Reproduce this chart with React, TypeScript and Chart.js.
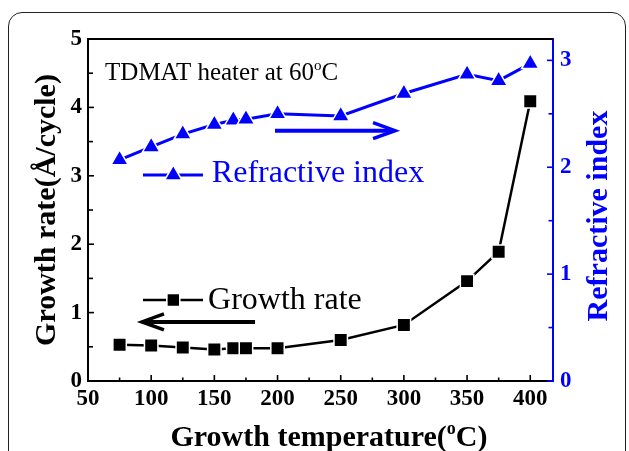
import React, { useEffect, useRef } from "react";
import { Chart, registerables } from "chart.js";

Chart.register(...registerables);

// ---- data ----
const temperatures = [75, 100, 125, 150, 165, 175, 200, 250, 300, 350, 375, 400];
const growthRate = [0.53, 0.52, 0.49, 0.46, 0.48, 0.48, 0.48, 0.6, 0.82, 1.46, 1.89, 4.09];
const refractiveIndex = [2.07, 2.19, 2.31, 2.4, 2.44, 2.45, 2.5, 2.48, 2.69, 2.87, 2.81, 2.97];

// ---- tick values ----
const xMajorTicks = [50, 100, 150, 200, 250, 300, 350, 400];
const xMinorTicks = [75, 125, 175, 225, 275, 325, 375];
const growthMajorTicks = [0, 1, 2, 3, 4, 5];
const growthMinorTicks = [0.5, 1.5, 2.5, 3.5, 4.5];
const indexMajorTicks = [0, 1, 2, 3];
const indexMinorTicks = [0.5, 1.5, 2.5];

const xRange = [50, 418];
const growthRange = [0, 5];
const indexRange = [0, 3.2];

// ---- texts ----
const xTitleParts = ["Growth temperature(", "o", "C)"];
const yTitle = "Growth rate(Å/cycle)";
const y1Title = "Refractive index";
const noteParts = ["TDMAT heater at 60", "o", "C"];
const growthLabel = "Growth rate";
const indexLabel = "Refractive index";

const SERIF = "'Liberation Serif', 'Times New Roman', serif";
const BLUE = "#0000ff";
const BLACK = "#000000";

function drawTriangle(ctx: CanvasRenderingContext2D, x: number, y: number, r: number) {
  ctx.beginPath();
  ctx.moveTo(x, y - r);
  ctx.lineTo(x + r * 0.866, y + r * 0.5);
  ctx.lineTo(x - r * 0.866, y + r * 0.5);
  ctx.closePath();
}

function drawArrow(ctx: CanvasRenderingContext2D, x0: number, x1: number, y: number, color: string) {
  // x0 = tail, x1 = tip
  const dir = x1 > x0 ? 1 : -1;
  ctx.strokeStyle = color;
  ctx.lineWidth = 4;
  ctx.lineCap = "butt";
  ctx.beginPath();
  ctx.moveTo(x0, y);
  ctx.lineTo(x1 - dir * 2, y);
  ctx.stroke();
  ctx.lineJoin = "miter";
  ctx.lineWidth = 3.5;
  ctx.beginPath();
  ctx.moveTo(x1 - dir * 22, y - 8);
  ctx.lineTo(x1, y);
  ctx.lineTo(x1 - dir * 22, y + 8);
  ctx.stroke();
}

function drawParts(
  ctx: CanvasRenderingContext2D,
  parts: string[],
  x: number,
  y: number,
  font: string,
  supFont: string,
  supRaise: number,
  align: "left" | "center"
) {
  ctx.font = font;
  const w0 = ctx.measureText(parts[0]).width;
  const w2 = ctx.measureText(parts[2]).width;
  ctx.font = supFont;
  const w1 = ctx.measureText(parts[1]).width;
  const total = w0 + w1 + w2;
  let cx = align === "center" ? x - total / 2 : x;
  ctx.textAlign = "left";
  ctx.textBaseline = "alphabetic";
  ctx.font = font;
  ctx.fillText(parts[0], cx, y);
  cx += w0;
  ctx.font = supFont;
  ctx.fillText(parts[1], cx, y - supRaise);
  cx += w1;
  ctx.font = font;
  ctx.fillText(parts[2], cx, y);
}

const annotationPlugin = {
  id: "figureAnnotations",
  afterDraw(chart: any) {
    const { ctx, chartArea: ca, scales } = chart;
    const xs = scales.x;
    const yl = scales.y;
    const yr = scales.y1;
    const px = (v: number) => xs.getPixelForValue(v);
    const py = (v: number) => yl.getPixelForValue(v);
    ctx.save();

    // top frame line
    ctx.strokeStyle = BLACK;
    ctx.lineWidth = 2;
    ctx.beginPath();
    ctx.moveTo(ca.left, ca.top);
    ctx.lineTo(ca.right, ca.top);
    ctx.stroke();

    // inward tick marks
    ctx.lineWidth = 1.6;
    ctx.strokeStyle = BLACK;
    const xt = (vals: number[], len: number) => {
      vals.forEach((v) => {
        const p = px(v);
        ctx.beginPath();
        ctx.moveTo(p, ca.bottom);
        ctx.lineTo(p, ca.bottom - len);
        ctx.stroke();
      });
    };
    xt(xMajorTicks, 6);
    xt(xMinorTicks, 3.5);
    const ylt = (vals: number[], len: number) => {
      vals.forEach((v) => {
        const p = yl.getPixelForValue(v);
        ctx.beginPath();
        ctx.moveTo(ca.left, p);
        ctx.lineTo(ca.left + len, p);
        ctx.stroke();
      });
    };
    ylt(growthMajorTicks, 6);
    ylt(growthMinorTicks, 5);
    ctx.strokeStyle = BLUE;
    const yrt = (vals: number[], len: number) => {
      vals.forEach((v) => {
        const p = yr.getPixelForValue(v);
        ctx.beginPath();
        ctx.moveTo(ca.right, p);
        ctx.lineTo(ca.right - len, p);
        ctx.stroke();
      });
    };
    yrt(indexMajorTicks, 6);
    yrt(indexMinorTicks, 4.5);

    // note text
    ctx.fillStyle = BLACK;
    drawParts(ctx, noteParts, px(63.5), py(4.4), `25px ${SERIF}`, `15px ${SERIF}`, 10, "left");

    // refractive index legend sample
    const ly1 = py(3.01);
    ctx.strokeStyle = BLUE;
    ctx.lineWidth = 3;
    ctx.beginPath();
    ctx.moveTo(px(93.5), ly1);
    ctx.lineTo(px(141), ly1);
    ctx.stroke();
    const tcx = px(117.5);
    drawTriangle(ctx, tcx, ly1, 10);
    ctx.fillStyle = BLUE;
    ctx.fill();
    ctx.strokeStyle = "#ffffff";
    ctx.lineWidth = 1.5;
    ctx.stroke();
    ctx.fillStyle = BLUE;
    ctx.font = `32px ${SERIF}`;
    ctx.textAlign = "left";
    ctx.textBaseline = "alphabetic";
    ctx.fillText(indexLabel, px(148), py(2.91));

    // growth rate legend sample
    const ly2 = py(1.184);
    ctx.strokeStyle = BLACK;
    ctx.lineWidth = 2.5;
    ctx.beginPath();
    ctx.moveTo(px(93.5), ly2);
    ctx.lineTo(px(141), ly2);
    ctx.stroke();
    const scx = px(117.5);
    ctx.fillStyle = BLACK;
    ctx.fillRect(scx - 6, ly2 - 6, 12, 12);
    ctx.strokeStyle = "#ffffff";
    ctx.lineWidth = 1.5;
    ctx.strokeRect(scx - 6.5, ly2 - 6.5, 13, 13);
    ctx.fillStyle = BLACK;
    ctx.font = `32px ${SERIF}`;
    ctx.fillText(growthLabel, px(145), py(1.053));

    // arrows
    drawArrow(ctx, px(198), px(293), py(3.66), BLUE);
    drawArrow(ctx, px(182.2), px(92.7), py(0.863), BLACK);

    // axis titles
    ctx.fillStyle = BLACK;
    drawParts(ctx, xTitleParts, 329, 446, `bold 30px ${SERIF}`, `bold 18px ${SERIF}`, 12, "center");

    ctx.save();
    ctx.translate(55, (ca.top + ca.bottom) / 2);
    ctx.rotate(-Math.PI / 2);
    ctx.font = `bold 30px ${SERIF}`;
    ctx.textAlign = "center";
    ctx.textBaseline = "alphabetic";
    ctx.fillStyle = BLACK;
    ctx.fillText(yTitle, 0, 0);
    ctx.restore();

    ctx.save();
    ctx.translate(607, (ca.top + ca.bottom) / 2 + 6);
    ctx.rotate(-Math.PI / 2);
    ctx.font = `bold 30px ${SERIF}`;
    ctx.textAlign = "center";
    ctx.textBaseline = "alphabetic";
    ctx.fillStyle = BLUE;
    ctx.fillText(y1Title, 0, 0);
    ctx.restore();

    ctx.restore();
  },
};

export default function App() {
  const canvasRef = useRef<HTMLCanvasElement | null>(null);

  useEffect(() => {
    const canvas = canvasRef.current;
    if (!canvas) return;
    const tickFont = { family: SERIF, size: 23, weight: "bold" as const };
    const chart = new Chart(canvas, {
      type: "line",
      data: {
        datasets: [
          {
            label: growthLabel,
            data: temperatures.map((t, i) => ({ x: t, y: growthRate[i] })),
            yAxisID: "y",
            borderColor: BLACK,
            backgroundColor: BLACK,
            borderWidth: 2.5,
            pointStyle: "rect",
            pointRadius: 9.5,
            pointBackgroundColor: BLACK,
            pointBorderColor: "#ffffff",
            pointBorderWidth: 1.5,
            tension: 0,
            clip: false,
          },
          {
            label: indexLabel,
            data: temperatures.map((t, i) => ({ x: t, y: refractiveIndex[i] })),
            yAxisID: "y1",
            borderColor: BLUE,
            backgroundColor: BLUE,
            borderWidth: 3,
            pointStyle: "triangle",
            pointRadius: 10,
            pointBackgroundColor: BLUE,
            pointBorderColor: "#ffffff",
            pointBorderWidth: 1.5,
            tension: 0,
            clip: false,
          },
        ],
      },
      options: {
        responsive: false,
        animation: false,
        layout: { padding: { top: 39, left: 0, right: 0, bottom: 0 } },
        plugins: {
          legend: { display: false },
          tooltip: { enabled: false },
        },
        scales: {
          x: {
            type: "linear",
            position: "bottom",
            min: xRange[0],
            max: xRange[1],
            grid: { display: false, drawTicks: false },
            border: { display: true, color: BLACK, width: 2 },
            ticks: { font: tickFont, color: BLACK, padding: 4, maxRotation: 0, autoSkip: false },
            afterBuildTicks: (s: any) => {
              s.ticks = xMajorTicks.map((value) => ({ value }));
            },
            afterFit: (s: any) => {
              s.height = 70;
            },
          },
          y: {
            type: "linear",
            position: "left",
            min: growthRange[0],
            max: growthRange[1],
            grid: { display: false, drawTicks: false },
            border: { display: true, color: BLACK, width: 2 },
            ticks: { font: tickFont, color: BLACK, padding: 6 },
            afterBuildTicks: (s: any) => {
              s.ticks = growthMajorTicks.map((value) => ({ value }));
            },
            afterFit: (s: any) => {
              s.width = 88;
            },
          },
          y1: {
            type: "linear",
            position: "right",
            min: indexRange[0],
            max: indexRange[1],
            grid: { display: false, drawTicks: false },
            border: { display: true, color: BLUE, width: 2 },
            ticks: { font: tickFont, color: BLUE, padding: 7 },
            afterBuildTicks: (s: any) => {
              s.ticks = indexMajorTicks.map((value) => ({ value }));
            },
            afterFit: (s: any) => {
              s.width = 76;
            },
          },
        },
      },
      plugins: [annotationPlugin],
    });
    return () => chart.destroy();
  }, []);

  return (
    <div
      style={{
        position: "fixed",
        left: 0,
        top: 0,
        width: 629,
        height: 451,
        overflow: "hidden",
        background: "#ffffff",
      }}
    >
      <div
        style={{
          position: "absolute",
          left: 8,
          top: 12,
          width: 618,
          height: 470,
          border: "1.5px solid #222",
          borderRadius: 14,
          boxSizing: "border-box",
        }}
      />
      <canvas
        ref={canvasRef}
        width={629}
        height={451}
        style={{ position: "absolute", left: 0, top: 0, width: 629, height: 451 }}
      />
    </div>
  );
}
